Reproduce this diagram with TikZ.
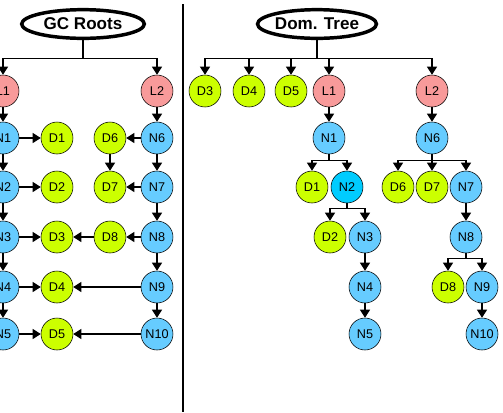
\documentclass[tikz,border=0pt]{standalone}
\usepackage{fontspec}
\setmainfont{Liberation Sans}
\usetikzlibrary{arrows.meta,shapes.geometric}
\definecolor{lpink}{HTML}{F89A9A}
\definecolor{nblue}{HTML}{66CCFF}
\definecolor{ncyan}{HTML}{00CCFF}
\definecolor{dlime}{HTML}{CCFF00}

\begin{document}
\begin{tikzpicture}[x=0.75pt,y=-0.75pt,
  obj/.style={circle, draw, thin, minimum size=24pt, inner sep=0pt,
    font=\fontsize{9.5}{11}\selectfont},
  lnode/.style={obj, fill=lpink},
  nnode/.style={obj, fill=nblue},
  dnode/.style={obj, fill=dlime},
  root/.style={ellipse, draw, line width=2.6pt, inner sep=0pt,
    minimum height=21.5pt, font=\bfseries\fontsize{12.8}{15}\selectfont},
  edge/.style={draw, line width=0.8pt, -{Triangle[width=7.5pt,length=6pt]}},
]
\useasboundingbox (0,0) rectangle (503,412);

% --- Object graph ---
\node[root, minimum width=92pt] (gcr) at (83,24) {GC Roots};
\node[lnode] (gL1) at (3,91) {L1};
\node[lnode] (gL2) at (157,91) {L2};
\node[nnode] (gN1) at (3,138) {N1};
\node[nnode] (gN2) at (3,187) {N2};
\node[nnode] (gN3) at (3,237) {N3};
\node[nnode] (gN4) at (3,287) {N4};
\node[nnode] (gN5) at (3,334) {N5};
\node[dnode] (gD1) at (57,138) {D1};
\node[dnode] (gD2) at (57,187) {D2};
\node[dnode] (gD3) at (57,237) {D3};
\node[dnode] (gD4) at (57,287) {D4};
\node[dnode] (gD5) at (57,334) {D5};
\node[dnode] (gD6) at (110,138) {D6};
\node[dnode] (gD7) at (110,187) {D7};
\node[dnode] (gD8) at (110,237) {D8};
\node[nnode] (gN6) at (157,138) {N6};
\node[nnode] (gN7) at (157,187) {N7};
\node[nnode] (gN8) at (157,237) {N8};
\node[nnode] (gN9) at (157,287) {N9};
\node[nnode] (gN10) at (157,334) {N10};

\draw[edge] (gcr.south) -- ++(0,18) -| (gL1);
\draw[edge] (gcr.south) -- ++(0,18) -| (gL2);
\draw[edge] (gL1) -- (gN1);
\draw[edge] (gN1) -- (gN2);
\draw[edge] (gN2) -- (gN3);
\draw[edge] (gN3) -- (gN4);
\draw[edge] (gN4) -- (gN5);
\draw[edge] (gN1) -- (gD1);
\draw[edge] (gN2) -- (gD2);
\draw[edge] (gN3) -- (gD3);
\draw[edge] (gN4) -- (gD4);
\draw[edge] (gN5) -- (gD5);
\draw[edge] (gL2) -- (gN6);
\draw[edge] (gN6) -- (gN7);
\draw[edge] (gN7) -- (gN8);
\draw[edge] (gN8) -- (gN9);
\draw[edge] (gN9) -- (gN10);
\draw[edge] (gN6) -- (gD6);
\draw[edge] (gN7) -- (gD7);
\draw[edge] (gN8) -- (gD8);
\draw[edge] (gD6) -- (gD7);
\draw[edge] (gD8) -- (gD3);
\draw[edge] (gN9) -- (gD4);
\draw[edge] (gN10) -- (gD5);

% Separator
\draw[line width=1.1pt] (183,4) -- (183,412);

% --- Dominator tree ---
\node[root, minimum width=87pt] (dtr) at (317,24) {Dom. Tree};
\node[dnode] (tD3) at (205,91) {D3};
\node[dnode] (tD4) at (249,91) {D4};
\node[dnode] (tD5) at (291,91) {D5};
\node[lnode] (tL1) at (329,91) {L1};
\node[lnode] (tL2) at (432,91) {L2};
\node[nnode] (tN1) at (329,138) {N1};
\node[nnode] (tN6) at (432,138) {N6};
\node[dnode] (tD1) at (312,187) {D1};
\node[obj, fill=ncyan] (tN2) at (347,187) {N2};
\node[dnode] (tD6) at (398,187) {D6};
\node[dnode] (tD7) at (432,187) {D7};
\node[nnode] (tN7) at (466,187) {N7};
\node[dnode] (tD2) at (330,237) {D2};
\node[nnode] (tN3) at (365,237) {N3};
\node[nnode] (tN8) at (466,237) {N8};
\node[nnode] (tN4) at (365,287) {N4};
\node[dnode] (tD8) at (448,287) {D8};
\node[nnode] (tN9) at (482,287) {N9};
\node[nnode] (tN5) at (365,334) {N5};
\node[nnode] (tN10) at (482,334) {N10};

\foreach \c in {tD3,tD4,tD5,tL1,tL2}
  \draw[edge] (dtr.south) -- ++(0,18) -| (\c);
\draw[edge] (tL1) -- (tN1);
\draw[edge] (tL2) -- (tN6);
\foreach \c in {tD1,tN2}
  \draw[edge] (tN1.south) -- ++(0,6) -| (\c);
\foreach \c in {tD6,tD7,tN7}
  \draw[edge] (tN6.south) -- ++(0,6) -| (\c);
\foreach \c in {tD2,tN3}
  \draw[edge] (tN2.south) -- ++(0,5) -| (\c);
\draw[edge] (tN3) -- (tN4);
\draw[edge] (tN4) -- (tN5);
\draw[edge] (tN7) -- (tN8);
\foreach \c in {tD8,tN9}
  \draw[edge] (tN8.south) -- ++(0,5) -| (\c);
\draw[edge] (tN9) -- (tN10);
\end{tikzpicture}
\end{document}
